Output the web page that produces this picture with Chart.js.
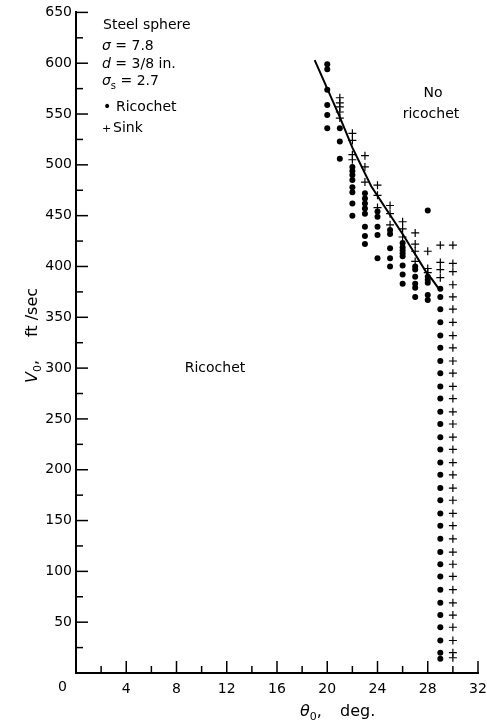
<!DOCTYPE html>
<html>
<head>
<meta charset="utf-8">
<script src="https://cdn.jsdelivr.net/npm/chart.js@4.4.0/dist/chart.umd.min.js"></script>
<style>
  body { margin: 0; background: #fff; }
  canvas { display: block; }
</style>
</head>
<body>
<canvas id="myChart" width="487" height="727"></canvas>
<script>
// impact angle columns (deg) and the speeds read at each one (ft/sec)
const angles = [20, 21, 22, 23, 24, 25, 26, 27, 28, 29, 30];

const ricochetSpeeds = [
  [599, 594, 574, 559, 549, 536],
  [536, 523, 506],
  [498, 494, 490, 485, 478, 473, 462, 450],
  [472, 467, 462, 457, 452, 439, 430, 422],
  [454, 449, 439, 431, 408],
  [436, 432, 418, 408, 400],
  [423, 419, 416, 413, 410, 401, 392, 383],
  [400, 397, 390, 383, 379, 370],
  [455, 390, 387, 384, 372, 367],
  [378, 370, 358, 345, 332, 320, 307, 295, 282, 270, 257, 245, 232, 220, 207, 195,
   182, 170, 157, 145, 132, 119, 107, 95, 82, 69, 57, 45, 32, 20, 14],
  []
];

const sinkSpeeds = [
  [],
  [566, 561, 557, 552, 546],
  [531, 524, 510, 505],
  [509, 498, 483],
  [480, 470, 458],
  [460, 452, 441],
  [444, 437, 429],
  [433, 422, 415, 405],
  [415, 398, 394],
  [421, 404, 397, 389],
  [421, 403, 395, 382, 370, 358, 345, 332, 320, 307, 295, 282, 270, 257, 245, 232,
   220, 207, 195, 182, 170, 157, 145, 132, 119, 107, 95, 82, 69, 57, 45, 32, 20, 15]
];

// hand drawn boundary between ricochet and no ricochet
const boundaryAngle = [19.0, 20.0, 21.0, 22.0, 23.5, 26.1, 27.9, 28.3, 29.0];
const boundarySpeed = [603, 575, 547, 517, 479, 430, 394, 388, 376];

const FONT = "'DejaVu Sans', sans-serif";

let ricochetData = [];
let sinkData = [];
angles.forEach((a, i) => {
  ricochetSpeeds[i].forEach(v => ricochetData.push({ x: a, y: v }));
  sinkSpeeds[i].forEach(v => sinkData.push({ x: a, y: v }));
});
const boundaryData = boundaryAngle.map((a, i) => ({ x: a, y: boundarySpeed[i] }));

// write a line made of pieces (italic letters, subscripts)
function drawRuns(ctx, x, y, runs, size) {
  runs.forEach(r => {
    if (r.at !== undefined) x = r.at;
    const s = r.sub ? Math.round(size * 0.7) : (r.size || size);
    ctx.font = (r.italic ? 'italic ' : '') + s + 'px ' + FONT;
    ctx.fillText(r.t, x, r.sub ? y + 4 : y);
    x += ctx.measureText(r.t).width;
  });
}

const extras = {
  id: 'extras',
  afterDraw(chart) {
    const ctx = chart.ctx;
    const xs = chart.scales.x;
    const ys = chart.scales.y;
    const left = chart.chartArea.left;
    const bottom = chart.chartArea.bottom;

    // tick marks point into the plot
    ctx.save();
    ctx.strokeStyle = '#000';
    ctx.lineWidth = 1.5;
    ys.ticks.forEach(t => {
      if (t.value === 0) return;
      const py = ys.getPixelForValue(t.value);
      const len = t.value % 50 === 0 ? 12 : 7;
      ctx.beginPath();
      ctx.moveTo(left, py);
      ctx.lineTo(left + len, py);
      ctx.stroke();
    });
    xs.ticks.forEach(t => {
      if (t.value === 0) return;
      const px = xs.getPixelForValue(t.value);
      const len = t.value % 4 === 0 ? 12 : 7;
      ctx.beginPath();
      ctx.moveTo(px, bottom);
      ctx.lineTo(px, bottom - len);
      ctx.stroke();
    });

    ctx.fillStyle = '#000';
    ctx.textBaseline = 'alphabetic';
    ctx.textAlign = 'left';

    // origin label
    ctx.font = '14px ' + FONT;
    ctx.fillText('0', 58, 691);

    // parameter block
    drawRuns(ctx, 103, 29, [{ t: 'Steel sphere' }], 14);
    drawRuns(ctx, 102, 50, [{ t: 'σ', italic: true }, { t: ' = 7.8' }], 14);
    drawRuns(ctx, 102, 68, [{ t: 'd', italic: true }, { t: ' = 3/8 in.' }], 14);
    drawRuns(ctx, 102, 85, [{ t: 'σ', italic: true }, { t: 's', sub: true }, { t: ' = 2.7' }], 14);
    drawRuns(ctx, 103, 111, [{ t: '•' }, { t: 'Ricochet', at: 116 }], 14);
    drawRuns(ctx, 102, 132, [{ t: '+', size: 11 }, { t: 'Sink', at: 113 }], 14);

    // region labels
    ctx.font = '14px ' + FONT;
    ctx.textAlign = 'center';
    ctx.fillText('No', 433, 97);
    ctx.fillText('ricochet', 431, 118);
    ctx.fillText('Ricochet', 215, 372);
    ctx.textAlign = 'left';

    // axis titles
    drawRuns(ctx, 300, 716, [{ t: 'θ', italic: true }, { t: '0', sub: true }, { t: ',' }, { t: 'deg.', at: 340 }], 16);

    ctx.translate(37, 383);
    ctx.rotate(-Math.PI / 2);
    drawRuns(ctx, 0, 0, [{ t: 'V', italic: true }, { t: '0', sub: true }, { t: ',' }, { t: 'ft /sec', at: 46 }], 16);
    ctx.restore();
  }
};

new Chart(document.getElementById('myChart'), {
  type: 'scatter',
  data: {
    datasets: [
      {
        label: 'Ricochet',
        data: ricochetData,
        pointStyle: 'circle',
        pointRadius: 3,
        backgroundColor: '#000',
        borderColor: '#000',
        borderWidth: 0,
        order: 1
      },
      {
        label: 'Sink',
        data: sinkData,
        pointStyle: 'cross',
        pointRadius: 4,
        borderColor: '#000',
        borderWidth: 1.2,
        order: 2
      },
      {
        type: 'line',
        label: 'Boundary',
        data: boundaryData,
        borderColor: '#000',
        borderWidth: 2,
        pointRadius: 0,
        fill: false,
        order: 3
      }
    ]
  },
  options: {
    responsive: false,
    animation: false,
    layout: { padding: { top: 12, right: 9, left: 0, bottom: 0 } },
    plugins: {
      legend: { display: false },
      tooltip: { enabled: false }
    },
    scales: {
      x: {
        type: 'linear',
        min: 0,
        max: 32,
        afterFit(s) {
          s.height = 54;
          s.paddingLeft = 0;
          s.paddingRight = 0;
        },
        grid: { display: false, drawTicks: false },
        border: { display: true, color: '#000', width: 2 },
        ticks: {
          stepSize: 2,
          autoSkip: false,
          maxRotation: 0,
          padding: 8,
          color: '#000',
          font: { family: FONT, size: 14 },
          callback: v => (v % 4 === 0 && v !== 0) ? v : ''
        }
      },
      y: {
        min: 0,
        max: 650,
        afterFit(s) { s.width = 76; },
        grid: { display: false, drawTicks: false },
        border: { display: true, color: '#000', width: 2 },
        ticks: {
          stepSize: 25,
          autoSkip: false,
          padding: 4,
          color: '#000',
          font: { family: FONT, size: 14 },
          callback: v => (v % 50 === 0 && v !== 0) ? v : ''
        }
      }
    }
  },
  plugins: [extras]
});
</script>
</body>
</html>
